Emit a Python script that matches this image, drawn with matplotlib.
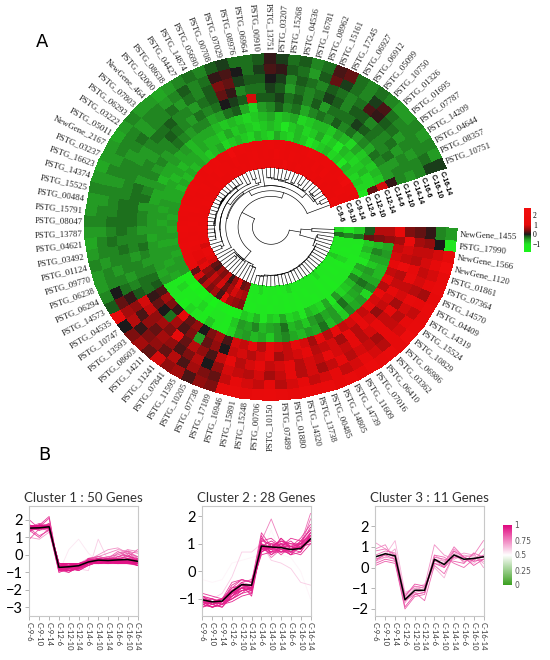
import numpy as np
import matplotlib.pyplot as plt
from matplotlib.colors import LinearSegmentedColormap, Normalize
from matplotlib.cm import ScalarMappable

samples = ["C-9-6", "C-9-10", "C-9-14", "C-12-6", "C-12-10", "C-12-14",
           "C-14-6", "C-14-10", "C-14-14", "C-16-6", "C-16-10", "C-16-14"]

# cluster 1 : high at C-9, low afterwards
genes_c1 = ["PSTG_10751", "PSTG_08357", "PSTG_04644", "PSTG_14209", "PSTG_07787", "PSTG_01695",
            "PSTG_01326", "PSTG_10750", "PSTG_05099", "PSTG_06912", "PSTG_06927", "PSTG_17245",
            "PSTG_15161", "PSTG_08962", "PSTG_16781", "PSTG_04536", "PSTG_15268", "PSTG_03207",
            "PSTG_13751", "PSTG_00910", "PSTG_06964", "PSTG_08976", "PSTG_07029", "PSTG_00708",
            "PSTG_05690", "PSTG_14874", "PSTG_04427", "PSTG_08638", "PSTG_02000", "NewGene_464",
            "PSTG_07803", "PSTG_06293", "PSTG_03222", "PSTG_05011", "NewGene_2167", "PSTG_03237",
            "PSTG_16623", "PSTG_14374", "PSTG_15525", "PSTG_00484", "PSTG_15791", "PSTG_08047",
            "PSTG_13787", "PSTG_04621", "PSTG_03492", "PSTG_01124", "PSTG_09770", "PSTG_06238",
            "PSTG_06294", "PSTG_14573"]
expr_c1 = [
    [1.6, 1.4, 1.3, -1.0, 0.3, 0.9, 0.1, -0.4, -0.5, -0.4, -0.1, -0.1],
    [1.7, 1.5, 1.6, -0.9, -0.9, -0.8, -0.5, -0.4, -0.4, -0.4, -0.3, -0.5],
    [1.5, 1.7, 1.6, -0.8, -0.9, -0.7, -0.5, -0.5, -0.4, -0.5, -0.4, -0.4],
    [1.4, 1.6, 2.1, -0.9, -0.7, -0.8, -0.4, -0.3, -0.5, -0.4, -0.4, -0.5],
    [1.6, 1.5, 1.8, -0.8, -0.8, -0.7, -0.3, -0.4, -0.3, -0.5, -0.4, -0.4],
    [1.5, 1.6, 1.6, -0.7, -0.9, -0.8, -0.6, -0.4, -0.4, -0.3, -0.4, -0.5],
    [1.7, 1.6, 1.5, -1.0, -0.8, -0.6, -0.4, -0.3, -0.3, -0.2, -0.3, -0.5],
    [1.3, 1.8, 1.7, -0.8, -0.7, -0.9, -0.5, -0.2, -0.4, 0.1, 0.2, -0.4],
    [1.6, 1.5, 1.7, -0.9, -1.0, -0.7, -0.3, -0.1, -0.2, 0.2, -0.1, -0.3],
    [1.5, 1.7, 1.6, -0.7, -0.8, -0.6, -0.4, -0.3, -0.2, -0.3, -0.4, -0.4],
    [1.6, 1.4, 1.7, -0.8, -0.9, -0.8, -0.2, -0.3, -0.4, -0.4, -0.3, -0.3],
    [1.4, 1.6, 1.8, -0.9, -0.6, -0.7, -0.4, -0.3, -0.2, -0.3, -0.1, 0.3],
    [1.7, 1.5, 1.6, -1.0, -0.8, -0.7, -0.3, -0.5, -0.1, -0.2, 0.3, 0.2],
    [1.5, 1.6, 1.5, -0.8, -0.9, -0.8, -0.4, -0.2, -0.3, -0.4, -0.2, -0.3],
    [1.6, 1.7, 1.6, -0.7, -0.7, -0.9, -0.6, -0.4, -0.4, -0.3, -0.5, -0.4],
    [2.0, 1.5, 1.4, -0.9, -0.8, -0.6, -0.3, -0.2, -0.3, -0.2, -0.3, -0.2],
    [1.5, 1.6, 1.7, -0.8, -1.0, -0.7, -0.4, -0.3, -0.5, -0.4, -0.2, -0.3],
    [1.6, 1.8, 1.5, -0.6, -0.8, -0.8, -0.2, -0.1, -0.2, -0.1, 0.1, -0.1],
    [1.4, 1.5, 1.7, -0.9, -0.7, -0.6, -0.4, -0.2, -0.1, 0.0, 0.2, 0.1],
    [1.5, 1.6, 1.6, -0.8, -0.8, -0.7, -0.5, -0.2, -0.3, -0.2, -0.1, -0.2],
    [1.6, 1.4, 1.5, -0.7, -0.9, -0.8, -0.9, 0.9, -0.3, -0.2, -0.3, -0.3],
    [1.5, 1.7, 1.6, -0.9, -0.8, -0.9, -0.6, -0.2, -0.4, -0.1, 0.0, -0.3],
    [1.7, 1.6, 1.5, -0.8, -0.7, -0.8, -0.2, -0.1, 0.1, 0.3, 0.2, -0.1],
    [1.4, 1.5, 1.7, -0.7, -0.8, -0.7, -0.3, 0.0, 0.3, 0.4, 0.1, -0.2],
    [1.6, 1.5, 1.6, -0.8, -0.6, -0.8, -0.5, -0.3, -0.2, -0.2, -0.3, -0.4],
    [1.5, 1.7, 2.2, -0.9, -0.8, -0.7, -0.6, -0.4, -0.3, -0.4, -0.4, -0.3],
    [1.7, 1.5, 1.6, -0.6, -0.7, -0.6, -0.4, -0.3, -0.5, -0.3, -0.2, -0.4],
    [1.6, 1.6, 1.5, -0.7, -0.7, -0.6, -0.4, -0.5, -0.4, -0.5, -0.4, -0.5],
    [1.5, 1.6, 1.7, -0.8, -0.6, -0.6, -0.5, -0.4, -0.4, -0.3, -0.5, -0.6],
    [1.4, 1.7, 1.6, -0.7, -0.7, -0.7, -0.4, -0.3, -0.2, -0.4, -0.4, -0.5],
    [1.6, 1.5, 1.7, -0.6, -0.6, -0.5, -0.3, -0.2, -0.3, -0.4, -0.4, -0.5],
    [1.7, 1.6, 1.5, -0.7, -0.6, -0.6, -0.4, -0.4, -0.3, -0.5, -0.5, -0.4],
    [1.5, 1.5, 1.6, -0.6, -0.7, -0.5, -0.5, -0.4, -0.4, -0.3, -0.4, -0.5],
    [1.6, 1.7, 1.6, -0.7, -0.6, -0.6, -0.4, -0.5, -0.5, -0.4, -0.4, -0.6],
    [1.5, 1.6, 1.7, -0.6, -0.7, -0.6, -0.5, -0.4, -0.5, -0.5, -0.4, -0.5],
    [1.6, 1.5, 1.6, -0.7, -0.6, -0.7, -0.4, -0.4, -0.4, -0.4, -0.5, -0.5],
    [1.7, 1.6, 1.5, -0.6, -0.6, -0.5, -0.5, -0.5, -0.4, -0.4, -0.4, -0.6],
    [1.5, 1.6, 1.6, -0.6, -0.6, -0.6, -0.4, -0.3, -0.4, -0.5, -0.5, -0.5],
    [1.6, 1.7, 1.7, -0.5, -0.5, -0.6, -0.3, -0.3, -0.4, -0.4, -0.4, -0.4],
    [1.4, 1.5, 1.6, -0.5, -0.6, -0.5, -0.5, -0.3, -0.3, -0.4, -0.5, -0.5],
    [1.6, 1.6, 1.5, -0.6, -0.5, -0.5, -0.4, -0.3, -0.3, -0.4, -0.4, -0.5],
    [1.5, 1.7, 1.6, -0.5, -0.6, -0.5, -0.4, -0.3, -0.3, -0.3, -0.4, -0.4],
    [1.7, 1.6, 1.7, -0.6, -0.5, -0.5, -0.5, -0.4, -0.3, -0.4, -0.5, -0.5],
    [1.6, 1.5, 1.6, -0.5, -0.5, -0.6, -0.4, -0.4, -0.4, -0.3, -0.4, -0.6],
    [1.5, 1.6, 1.5, -0.6, -0.6, -0.5, -0.3, -0.4, -0.3, -0.4, -0.4, -0.5],
    [1.6, 1.7, 1.6, -0.5, -0.5, -0.5, -0.4, -0.5, -0.4, -0.4, -0.5, -0.4],
    [0.9, 1.5, 1.6, -0.6, -0.5, -0.5, -0.5, -0.4, -0.4, -0.5, -0.4, -0.5],
    [1.4, 1.0, 1.5, -0.5, -0.6, -0.5, -0.4, -0.4, -0.5, -0.4, -0.4, -0.5],
    [1.5, 1.1, 1.4, -0.5, -0.5, -0.6, -0.3, -0.3, -0.4, -0.3, 0.0, -0.4],
    [1.0, 0.9, 1.3, -0.5, -0.6, -0.5, -0.2, -0.3, -0.2, 0.1, 0.3, -0.2],
]
member_c1 = [0.55, 0.95, 0.96, 0.9, 0.94, 0.95, 0.92, 0.8, 0.82, 0.96,
             0.93, 0.8, 0.75, 0.95, 0.94, 0.88, 0.95, 0.85, 0.82, 0.93,
             0.6, 0.9, 0.75, 0.72, 0.95, 0.9, 0.94, 0.97, 0.95, 0.95,
             0.94, 0.96, 0.95, 0.97, 0.96, 0.97, 0.96, 0.97, 0.95, 0.93,
             0.96, 0.95, 0.94, 0.97, 0.96, 0.97, 0.85, 0.9, 0.85, 0.7]

# cluster 3 : dip at C-12
genes_c3 = ["PSTG_04535", "PSTG_10747", "PSTG_13593", "PSTG_08603", "PSTG_14211", "PSTG_11241",
            "PSTG_07841", "PSTG_11595", "PSTG_10205", "PSTG_07738", "PSTG_17189"]
expr_c3 = [
    [0.9, 1.1, 0.3, -1.6, -1.2, -1.1, 0.2, 0.1, 0.9, 0.5, 0.6, 1.3],
    [0.3, 0.5, 0.9, -1.4, -0.9, -1.0, 0.6, 0.3, 0.8, 0.2, 0.7, 0.0],
    [0.2, 0.4, 0.3, -1.9, -1.3, -1.2, 0.4, 0.0, 0.5, 0.5, 0.1, 0.4],
    [0.6, 0.8, 0.7, -1.5, -1.2, -1.6, 0.1, -0.3, 0.6, 0.3, 0.4, 0.6],
    [0.4, 0.5, 0.4, -1.7, -1.1, -0.9, 1.1, 0.6, 0.4, 0.6, 0.5, 0.3],
    [0.8, 0.9, 0.6, -1.3, -0.9, -1.0, 0.3, 0.2, 1.0, 0.5, 0.3, 0.9],
    [0.1, 0.3, 0.2, -2.0, -1.4, -1.3, 0.5, 0.4, 0.3, 0.2, 0.7, 0.5],
    [0.5, 0.6, 1.3, -1.2, -1.0, -0.8, 0.0, -0.5, 0.7, 0.4, 0.2, 0.6],
    [1.2, 0.9, 0.6, -1.5, -1.0, -1.1, 0.4, 0.3, 0.5, 0.7, 0.6, 0.2],
    [0.3, 0.7, 0.5, -1.6, -1.3, -1.2, 0.6, 0.5, 0.2, 0.0, 0.4, 0.5],
    [0.4, 0.6, 0.4, -1.4, -0.8, -0.9, 0.2, 0.0, 0.8, 0.5, 0.3, 0.4],
]
member_c3 = [0.75, 0.7, 0.85, 0.8, 0.72, 0.78, 0.82, 0.65, 0.7, 0.8, 0.85]

# cluster 2 : low at C-9 / C-12, high afterwards
genes_c2 = ["PSTG_16946", "PSTG_15891", "PSTG_15248", "PSTG_00706", "PSTG_10150", "PSTG_07489",
            "PSTG_01880", "PSTG_14320", "PSTG_13738", "PSTG_00485", "PSTG_14805", "PSTG_14739",
            "PSTG_11609", "PSTG_07016", "PSTG_06410", "PSTG_03362", "PSTG_06986", "PSTG_10829",
            "PSTG_15524", "PSTG_14319", "PSTG_04409", "PSTG_14570", "PSTG_07364", "PSTG_01861",
            "NewGene_1120", "NewGene_1566", "PSTG_17990", "NewGene_1455"]
expr_c2 = [
    [-1.0, -1.2, -1.1, -0.8, -0.5, -0.6, 0.9, 0.8, 1.0, 0.9, 0.8, 1.2],
    [-1.1, -1.1, -1.2, -0.9, -0.6, -0.5, 0.8, 0.9, 0.7, 0.8, 1.0, 1.4],
    [-0.9, -1.2, -1.0, -0.7, -0.4, -0.7, 1.0, 0.7, 0.9, 0.7, 0.9, 1.1],
    [-1.2, -1.3, -1.1, -1.0, -0.7, -0.6, 0.7, 0.9, 1.1, 0.9, 0.8, 1.3],
    [-1.0, -1.1, -1.2, -0.8, -0.6, -0.8, 1.1, 1.0, 0.8, 0.6, 1.1, 1.5],
    [-1.1, -1.2, -1.0, -0.9, -0.5, -0.5, 0.9, 0.6, 0.9, 0.8, 0.7, 1.2],
    [-1.3, -1.1, -1.1, -0.6, -0.3, -0.4, 0.8, 0.8, 1.0, 1.0, 0.9, 1.0],
    [-1.0, -1.2, -1.3, -0.9, -0.7, -0.6, 1.2, 0.9, 0.7, 0.7, 1.0, 1.6],
    [-0.9, -1.0, -1.1, -0.8, -0.6, -0.7, 0.9, 1.1, 0.9, 0.9, 0.8, 1.3],
    [-1.1, -1.3, -1.2, -1.0, -0.8, -0.5, 0.6, 0.7, 0.8, 0.6, 0.9, 1.4],
    [-1.2, -1.1, -1.0, -0.7, -0.5, -0.6, 1.0, 0.8, 1.2, 0.8, 1.1, 1.1],
    [-1.0, -1.2, -1.1, -0.8, -0.4, -0.3, 0.7, 0.9, 0.9, 1.1, 0.8, 1.3],
    [-1.1, -1.0, -1.2, -0.9, -0.6, -0.7, 1.3, 0.6, 0.8, 0.7, 0.9, 1.0],
    [-1.0, -1.1, -1.0, -0.6, -0.5, -0.5, 0.8, 1.0, 1.0, 0.9, 1.2, 1.7],
    [-1.2, -1.3, -1.2, -1.1, -0.9, -0.8, 0.9, 0.7, 0.7, 0.8, 0.9, 1.2],
    [-0.9, -1.1, -1.1, -0.5, -0.3, -0.4, 1.1, 1.2, 0.9, 0.6, 0.7, 1.4],
    [-1.1, -1.2, -1.3, -0.9, -0.7, -0.6, 0.8, 0.9, 1.1, 1.0, 1.0, 1.1],
    [-1.0, -1.0, -1.1, -0.8, -0.6, -0.5, 1.0, 0.5, 0.8, 0.8, 0.9, 1.9],
    [-1.3, -1.2, -1.1, -0.7, -0.5, -0.9, 0.9, 0.8, 1.0, 0.7, 1.0, 1.3],
    [-1.0, -1.1, -1.0, -0.4, -0.3, -0.4, 1.4, 0.9, 0.6, 0.9, 0.8, 1.2],
    [-1.1, -1.3, -1.2, -0.8, -0.6, -0.6, 0.7, 1.0, 0.9, 1.2, 1.1, 1.5],
    [-0.8, -0.9, -1.0, -0.6, -0.5, -0.7, 1.0, 0.8, 0.8, 0.7, 0.6, 1.0],
    [-1.2, -1.1, -1.2, -1.0, -0.8, -0.7, 0.8, 0.7, 1.2, 0.9, 1.0, 1.3],
    [-1.0, -1.2, -1.1, -0.9, -0.6, -0.6, 1.1, 1.9, 1.0, 0.8, 0.9, 1.2],
    [-1.1, -1.0, -1.2, -0.7, -0.4, -0.5, 0.9, 0.8, 0.7, 0.9, 1.0, 2.1],
    [-1.2, -1.1, -1.0, -0.8, -0.7, -0.6, 0.8, 0.9, 0.8, 0.8, 0.9, 1.1],
    [-0.3, -0.4, -0.3, 0.3, 0.4, 0.5, 0.6, 1.5, 0.6, 0.5, 0.0, -1.0],
    [-0.9, -1.0, -0.8, -0.2, 0.7, 0.7, 1.0, 0.4, 0.3, 0.1, -0.4, -0.5],
]
member_c2 = [0.95, 0.94, 0.93, 0.95, 0.9, 0.94, 0.9, 0.92, 0.95, 0.93,
             0.94, 0.92, 0.9, 0.88, 0.94, 0.9, 0.95, 0.8, 0.93, 0.88,
             0.92, 0.9, 0.93, 0.75, 0.78, 0.94, 0.52, 0.6]

# ---------------- geometry of the circular heatmap
# heatmap order around the circle: cluster 1, cluster 3, cluster 2
genes = genes_c1 + genes_c3 + genes_c2
mat = np.array(expr_c1 + expr_c3 + expr_c2)
n_gene, n_samp = mat.shape

RX, RY = 186.0, 173.0          # outer radius in px (picture is squeezed vertically)
CX, CY = 271.0, 227.0          # centre in px
L = 1.45
r_in, r_out = 0.345, 1.0
gap_lo, gap_hi = -0.5, 20.0    # angular gap (deg) holding the sample labels
theta_edges = np.linspace(gap_hi, 360 + gap_lo, n_gene + 1)
theta_mid = 0.5 * (theta_edges[:-1] + theta_edges[1:])
r_edges = np.linspace(r_in, r_out, n_samp + 1)


def screen_angle(t):
    t = np.radians(t)
    return np.degrees(np.arctan2(np.sin(t) * RY, np.cos(t) * RX))


fig = plt.figure(figsize=(5.5, 6.6), dpi=100)
ax = fig.add_axes([(CX - L * RX) / 550, (660 - CY - L * RY) / 660, 2 * L * RX / 550, 2 * L * RY / 660])
ax.set_xlim(-L, L)
ax.set_ylim(-L, L)
ax.axis("off")

vals = [-1.8, -1.0, -0.5, -0.2, 0.0, 0.5, 1.0, 2.7]
cols = [(0.1, 0.95, 0.1), (0.13, 0.9, 0.13), (0.14, 0.6, 0.14), (0.1, 0.36, 0.1), (0.1, 0.1, 0.1),
        (0.58, 0.05, 0.05), (0.9, 0.04, 0.04), (0.95, 0.05, 0.05)]
heat_cmap = LinearSegmentedColormap.from_list(
    "gbr", [((v - vals[0]) / (vals[-1] - vals[0]), c) for v, c in zip(vals, cols)])
heat_norm = Normalize(vals[0], vals[-1])

T, R = np.meshgrid(np.radians(theta_edges), r_edges)
ax.pcolormesh(R * np.cos(T), R * np.sin(T), mat.T, cmap=heat_cmap, norm=heat_norm,
              shading="flat", edgecolors="face", linewidth=0.2)

# gene labels
for name, t in zip(genes, theta_mid):
    a = screen_angle(t)
    x, y = 1.015 * np.cos(np.radians(t)), 1.015 * np.sin(np.radians(t))
    if np.cos(np.radians(t)) >= 0:
        ax.text(x, y, name, rotation=a, ha="left", va="center", rotation_mode="anchor",
                fontsize=6.3, family="Liberation Serif", color="#222222")
    else:
        ax.text(x, y, name, rotation=a + 180, ha="right", va="center", rotation_mode="anchor",
                fontsize=6.3, family="Liberation Serif", color="#222222")

# sample labels in the gap
t0 = gap_hi - 0.6
for k, s in enumerate(samples):
    rr = 0.5 * (r_edges[k] + r_edges[k + 1])
    ax.text(rr * np.cos(np.radians(t0)), rr * np.sin(np.radians(t0)), s,
            rotation=screen_angle(t0) - 90, ha="left", va="center", rotation_mode="anchor",
            fontsize=5, family="Liberation Sans", fontweight="bold")

# dendrogram: average linkage, merging neighbours only so the leaf order is kept
members = [[i] for i in range(n_gene)]
pos = list(theta_mid)
hgt = [0.0] * n_gene
merges = []
while len(members) > 1:
    best = None
    for k in range(len(members) - 1):
        a = mat[members[k]]
        b = mat[members[k + 1]]
        d = np.sqrt(((a[:, None, :] - b[None, :, :]) ** 2).sum(-1)).mean()
        if best is None or d < best[0]:
            best = (d, k)
    d, k = best
    h = max(d, hgt[k], hgt[k + 1])
    merges.append((pos[k], hgt[k], pos[k + 1], hgt[k + 1], h))
    members[k] = members[k] + members.pop(k + 1)
    pos[k] = 0.5 * (pos[k] + pos.pop(k + 1))
    hgt[k] = h
    hgt.pop(k + 1)

hmax = max(m[4] for m in merges)
r_leaf, r_root = 0.343, 0.10


def rad(h):
    return r_leaf - (r_leaf - r_root) * (h / hmax) ** 0.65


for t1, h1, t2, h2, h in merges:
    rm = rad(h)
    for tt, hh in ((t1, h1), (t2, h2)):
        c, s = np.cos(np.radians(tt)), np.sin(np.radians(tt))
        ax.plot([rad(hh) * c, rm * c], [rad(hh) * s, rm * s], color="black", lw=0.45)
    arc = np.radians(np.linspace(t1, t2, 60))
    ax.plot(rm * np.cos(arc), rm * np.sin(arc), color="black", lw=0.45)

fig.text(42 / 550, 1 - 42 / 660, "A", fontsize=13, family="DejaVu Sans", ha="center", va="center")
fig.text(44 / 550, 1 - 455 / 660, "B", fontsize=13, family="DejaVu Sans", ha="center", va="center")

# colour key of the heatmap
cax = fig.add_axes([524 / 550, 1 - 252 / 660, 7 / 550, 44 / 660])
cb = fig.colorbar(ScalarMappable(norm=heat_norm, cmap=heat_cmap), cax=cax, ticks=[2, 1, 0, -1])
cb.outline.set_visible(False)
cax.tick_params(length=0, labelsize=5.5, pad=1.5)
for lab in cax.get_yticklabels():
    lab.set_family("Liberation Serif")

# ---------------- cluster profiles
memb_cmap = LinearSegmentedColormap.from_list("memb", ["#3a9f1e", "#ffffff", "#e0067f"])
xs = np.arange(1, n_samp + 1)
panels = [
    (29, np.array(expr_c1), member_c1, "Cluster 1", (-3.5, 2.8), [-3, -2, -1, 0, 1, 2]),
    (202, np.array(expr_c2), member_c2, "Cluster 2", (-1.62, 2.37), [-1, 0, 1, 2]),
    (375, np.array(expr_c3), member_c3, "Cluster 3", (-2.34, 2.97), [-2, -1, 0, 1, 2]),
]
for left, ex, mem, name, ylim, yt in panels:
    pax = fig.add_axes([left / 550, 44 / 660, 109 / 550, 110 / 660])
    for i in np.argsort(mem):
        pax.plot(xs, ex[i], color=memb_cmap(mem[i]), lw=0.6)
    pax.plot(xs, ex.mean(axis=0), color="black", lw=1.1)
    pax.set_xlim(0.95, 12.05)
    pax.set_ylim(*ylim)
    pax.set_yticks(yt)
    pax.set_xticks(xs)
    pax.set_xticklabels(samples, rotation=-90, fontsize=5.5, family="Lato", color="#333333")
    for lab in pax.get_yticklabels():
        lab.set_family("Lato")
        lab.set_fontsize(10.5)
    pax.tick_params(color="#aaaaaa", length=3, width=0.6, pad=1.5)
    for sp in pax.spines.values():
        sp.set_color("#c8c8c8")
        sp.set_linewidth(0.8)
    pax.set_title(f"{name} : {len(ex)} Genes", fontsize=9.5, family="Lato", pad=3, color="#333333")

mcax = fig.add_axes([503 / 550, 1 - 585 / 660, 9 / 550, 60 / 660])
mcb = fig.colorbar(ScalarMappable(norm=Normalize(0, 1), cmap=memb_cmap), cax=mcax,
                   ticks=[0, 0.25, 0.5, 0.75, 1])
mcb.outline.set_visible(False)
mcb.set_ticklabels(["0", "0.25", "0.5", "0.75", "1"])
mcax.tick_params(length=0, labelsize=5.5, pad=1.5, labelcolor="#555555")

fig.savefig("out.png", dpi=100)
